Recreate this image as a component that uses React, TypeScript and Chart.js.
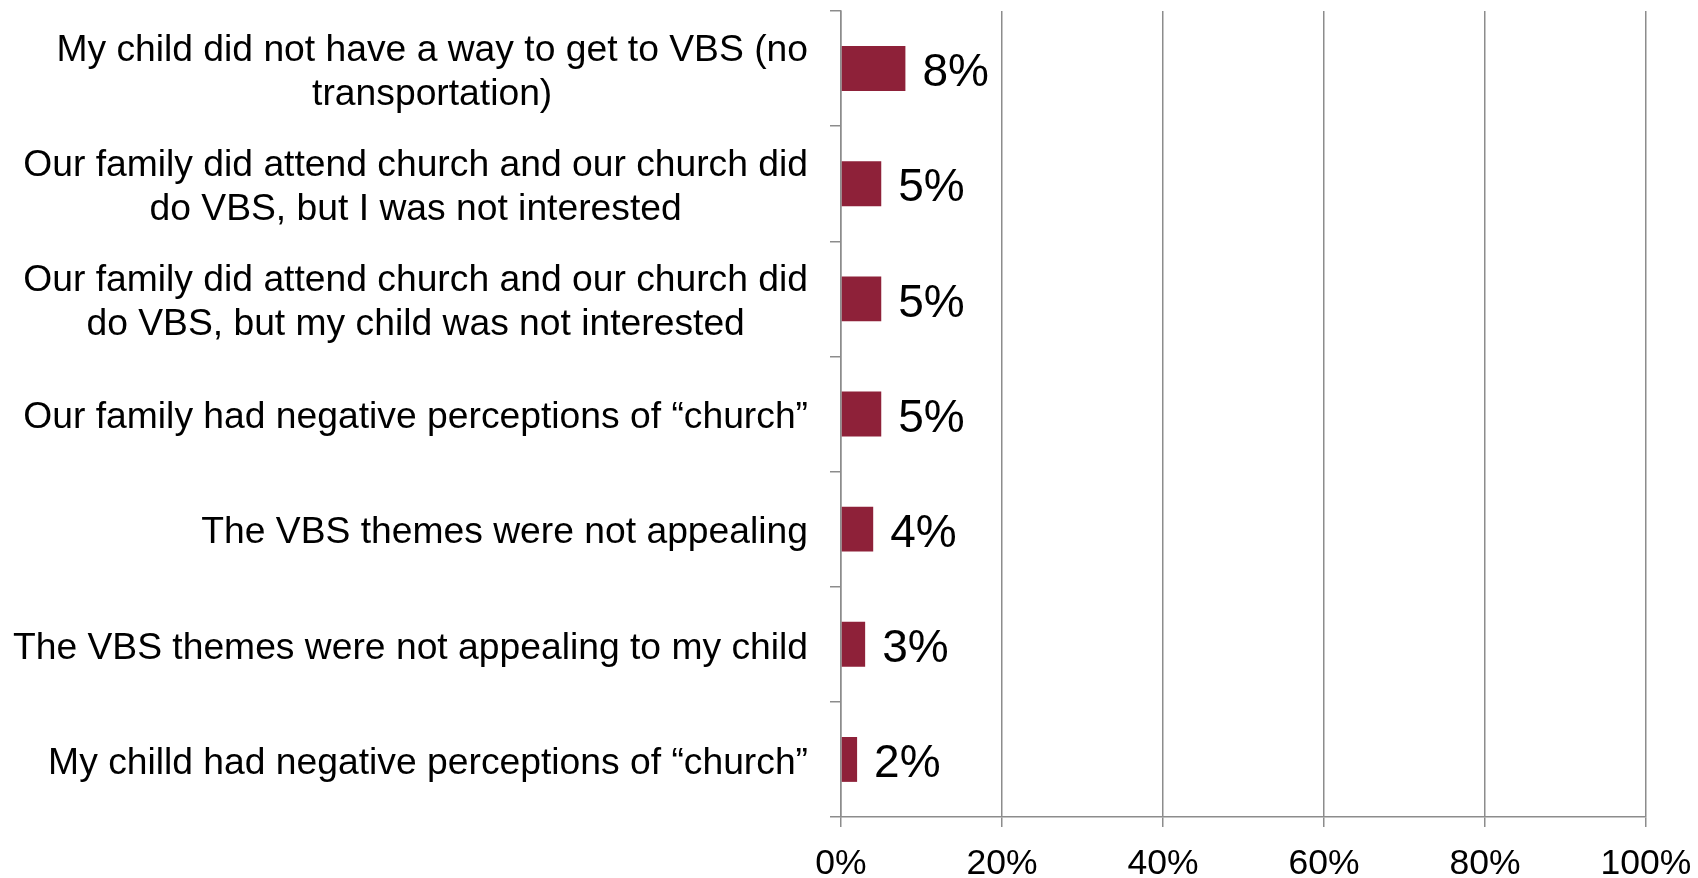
import React, { useEffect, useRef } from "react";
import { Chart, registerables } from "chart.js";

Chart.register(...registerables);

const categories: string[][] = [
  ["My child did not have a way to get to VBS (no", "transportation)"],
  ["Our family did attend church and our church did", "do VBS, but I was not interested"],
  ["Our family did attend church and our church did", "do VBS, but my child was not interested"],
  ["Our family had negative perceptions of \u201cchurch\u201d"],
  ["The VBS themes were not appealing"],
  ["The VBS themes were not appealing to my child"],
  ["My chilld had negative perceptions of \u201cchurch\u201d"],
];

const values: number[] = [8, 5, 5, 5, 4, 3, 2];

const xTicks: number[] = [0, 20, 40, 60, 80, 100];

const FONT = "'Liberation Sans', Arial, Helvetica, sans-serif";
const BAR_COLOR = "#8E2139";
const GRID_COLOR = "#8c8c8c";

const labelPlugin = {
  id: "customLabels",
  afterDraw(chart: any) {
    const ctx = chart.ctx;
    const yScale = chart.scales.y;
    const labels = chart.data.labels as string[][];
    const rightX = yScale.right - 11 - 22;
    ctx.save();
    ctx.font = `37.25px ${FONT}`;
    ctx.fillStyle = "#000";
    ctx.textBaseline = "middle";
    ctx.textAlign = "center";
    const lh = 44;
    labels.forEach((lines, i) => {
      const cy = yScale.getPixelForValue(i) + 4;
      const widest = Math.max(...lines.map((l) => ctx.measureText(l).width));
      const cx = rightX - widest / 2;
      const startY = cy - ((lines.length - 1) * lh) / 2;
      lines.forEach((line, j) => {
        ctx.fillText(line, cx, startY + j * lh);
      });
    });
    // data labels
    const meta = chart.getDatasetMeta(0);
    ctx.font = `46px ${FONT}`;
    ctx.textAlign = "left";
    meta.data.forEach((bar: any, i: number) => {
      ctx.fillText(values[i] + "%", bar.x + 17, bar.y + 5);
    });
    ctx.restore();
  },
};

export default function App() {
  const ref = useRef<HTMLCanvasElement | null>(null);
  useEffect(() => {
    if (!ref.current) return;
    const chart = new Chart(ref.current, {
      type: "bar",
      data: {
        labels: categories as any,
        datasets: [
          {
            data: values,
            backgroundColor: BAR_COLOR,
            borderWidth: 0,
            barPercentage: 0.39,
            categoryPercentage: 1,
          },
        ],
      },
      options: {
        indexAxis: "y",
        animation: false,
        responsive: false,
        layout: { padding: { top: 11, right: 52, left: 0, bottom: 0 } },
        plugins: {
          legend: { display: false },
          tooltip: { enabled: false },
        },
        scales: {
          x: {
            min: 0,
            max: 100,
            afterFit(scale: any) {
              scale.height = 61;
              scale.paddingLeft = 0;
              scale.paddingRight = 0;
            },
            afterBuildTicks(scale: any) {
              scale.ticks = xTicks.map((v) => ({ value: v }));
            },
            ticks: {
              stepSize: 20,
              padding: 16,
              color: "#000",
              font: { family: FONT, size: 35.5 },
              callback: (v: any) => v + "%",
            },
            grid: {
              color: GRID_COLOR,
              lineWidth: 1.5,
              tickLength: 10,
              drawTicks: true,
            },
            border: { color: GRID_COLOR, width: 1.5 },
          },
          y: {
            afterFit(scale: any) {
              scale.width = 841;
            },
            ticks: { display: false },
            grid: {
              offset: true,
              drawOnChartArea: false,
              drawTicks: true,
              tickLength: 11,
              color: GRID_COLOR,
              lineWidth: 1.5,
            },
            border: { color: GRID_COLOR, width: 1.5 },
          },
        },
      },
      plugins: [labelPlugin],
    });
    return () => chart.destroy();
  }, []);
  return (
    <div style={{ position: "absolute", left: 0, top: 0, width: 1698, height: 878 }}>
      <canvas ref={ref} width={1698} height={878} style={{ width: 1698, height: 878 }} />
    </div>
  );
}
